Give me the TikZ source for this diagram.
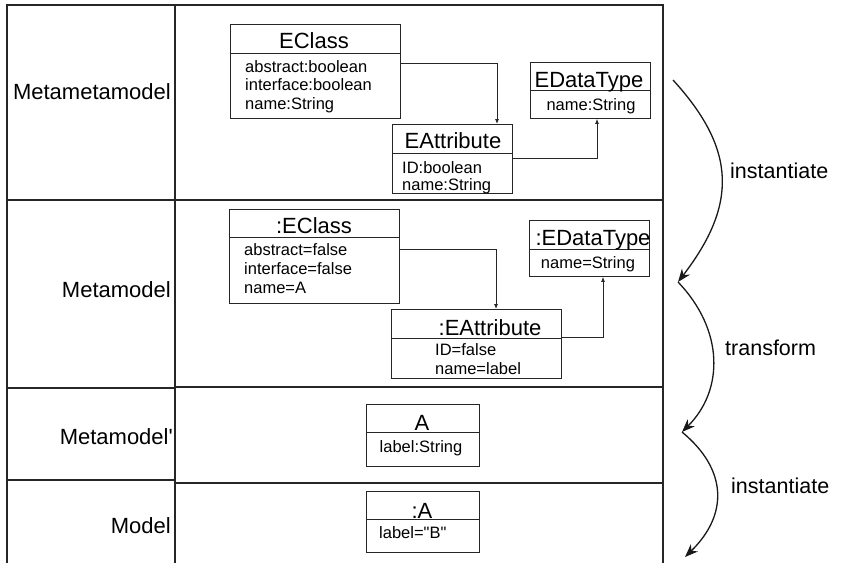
\documentclass[tikz,border=0pt]{standalone}
\usepackage{fontspec}
\setmainfont[Ligatures=TeXOff]{Liberation Sans}
\usetikzlibrary{arrows.meta,calc}

\tikzset{
  grid/.style={draw=black!85, line width=1.1pt},
  umlbox/.style={draw=black!85, line width=0.9pt, anchor=north west, inner sep=0pt, rectangle},
  hdr/.style={draw=black!85, line width=0.9pt},
  rowlabel/.style={anchor=east, inner sep=0pt, font=\fontsize{22}{24}\selectfont},
  title/.style={anchor=base, inner sep=0pt, font=\fontsize{22}{24}\selectfont},
  attr/.style={anchor=base west, inner sep=0pt, font=\fontsize{16.5}{18}\selectfont},
  attrc/.style={anchor=base, inner sep=0pt, font=\fontsize{16.5}{18}\selectfont},
  assoc/.style={draw=black!85, line width=0.8pt, -{Latex[length=5pt,width=4pt]}},
  flow/.style={draw=black!90, line width=1.3pt, -{Stealth[length=13pt,width=10pt,inset=4pt]}},
  flowlabel/.style={anchor=west, inner sep=0pt, font=\fontsize{21.5}{24}\selectfont},
}

\begin{document}
\begin{tikzpicture}[x=1pt,y=-1pt]
\useasboundingbox (0,0) rectangle (841,563);

% ---- table frame ----
\draw[grid] (7,563) -- (7,5) -- (663,5) -- (663,563);
\draw[grid] (175,5) -- (175,563);
\draw[grid] (7,200) -- (663,200);
\draw[grid] (7,388) -- (175,388);
\draw[grid] (175,387) -- (663,387);
\draw[grid] (7,480) -- (175,480);
\draw[grid] (175,483) -- (663,483);

% ---- row labels ----
\node[rowlabel] (lmmm) at (171,92) {Metametamodel};
\node[rowlabel] (lmm)  at (171,290) {Metamodel};
\node[rowlabel] (lmmp) at (173,437) {Metamodel'};
\node[rowlabel] (lm)   at (171,526) {Model};

% ---- Metametamodel ----
\node[umlbox, minimum width=170pt, minimum height=94pt] (eclass) at (230,24) {};
\draw[hdr] ($(eclass.north west)+(0,29)$) -- ($(eclass.north east)+(0,29)$);
\node[title] (eclassT) at (314,48) {EClass};
\node[attr] (eclassA1) at (245,72) {abstract:boolean};
\node[attr] (eclassA2) at (245,90.5) {interface:boolean};
\node[attr] (eclassA3) at (245,109) {name:String};

\node[umlbox, minimum width=120pt, minimum height=69pt] (eattr) at (392,124) {};
\draw[hdr] ($(eattr.north west)+(0,29)$) -- ($(eattr.north east)+(0,29)$);
\node[title] (eattrT) at (453,148) {EAttribute};
\node[attr] (eattrA1) at (402,173) {ID:boolean};
\node[attr] (eattrA2) at (402,190) {name:String};

\node[umlbox, minimum width=120pt, minimum height=56pt] (edt) at (530,62) {};
\draw[hdr] ($(edt.north west)+(0,28)$) -- ($(edt.north east)+(0,28)$);
\node[title] (edtT) at (589,87) {EDataType};
\node[attrc] (edtA1) at (591,110) {name:String};

\draw[assoc] ($(eclass.north east)+(0,39)$) -| ($(eattr.north west)+(105,0)$);
\draw[assoc] ($(eattr.north east)+(0,34)$) -| ($(edt.south west)+(67,0)$);

% ---- Metamodel ----
\node[umlbox, minimum width=170pt, minimum height=94pt] (oeclass) at (229,209) {};
\draw[hdr] ($(oeclass.north west)+(0,28)$) -- ($(oeclass.north east)+(0,28)$);
\node[title] (oeclassT) at (314,233) {:EClass};
\node[attr] (oeclassA1) at (244,255) {abstract=false};
\node[attr] (oeclassA2) at (244,274) {interface=false};
\node[attr] (oeclassA3) at (244,293) {name=A};

\node[umlbox, minimum width=170pt, minimum height=69pt] (oeattr) at (391,309) {};
\draw[hdr] ($(oeattr.north west)+(0,29)$) -- ($(oeattr.north east)+(0,29)$);
\node[title] (oeattrT) at (490,335) {:EAttribute};
\node[attr] (oeattrA1) at (435,355) {ID=false};
\node[attr] (oeattrA2) at (435,374) {name=label};

\node[umlbox, minimum width=120pt, minimum height=56pt] (oedt) at (529,220) {};
\draw[hdr] ($(oedt.north west)+(0,29)$) -- ($(oedt.north east)+(0,29)$);
\node[title] (oedtT) at (593,245) {:EDataType};
\node[attrc] (oedtA1) at (588,268) {name=String};

\draw[assoc] ($(oeclass.north east)+(0,40)$) -| ($(oeattr.north west)+(105,0)$);
\draw[assoc] ($(oeattr.north east)+(0,28)$) -| ($(oedt.south west)+(74,0)$);

% ---- Metamodel' ----
\node[umlbox, minimum width=113pt, minimum height=62pt] (clsA) at (366,404) {};
\draw[hdr] ($(clsA.north west)+(0,28)$) -- ($(clsA.north east)+(0,28)$);
\node[title] (clsAT) at (422,430) {A};
\node[attrc] (clsAA1) at (421,452) {label:String};

% ---- Model ----
\node[umlbox, minimum width=113pt, minimum height=61pt] (objA) at (366,491) {};
\draw[hdr] ($(objA.north west)+(0,28)$) -- ($(objA.north east)+(0,28)$);
\node[title] (objAT) at (422,518) {:A};
\node[attr] (objAA1) at (379,538) {label="B"};

% ---- level transitions ----
\coordinate (s0) at (673,80);
\coordinate (s1) at (678,282);
\coordinate (s2) at (682,432);
\coordinate (s3) at (685,557);
\draw[flow] (s0) .. controls (737,150) and (737,205) .. (s1);
\draw[flow] (s1) .. controls (724,330) and (724,390) .. (s2);
\draw[flow] (s2) .. controls (728,470) and (728,515) .. (s3);
\node[flowlabel] (t1) at (730,171) {instantiate};
\node[flowlabel] (t2) at (725,348) {transform};
\node[flowlabel] (t3) at (731,486) {instantiate};
\end{tikzpicture}
\end{document}
